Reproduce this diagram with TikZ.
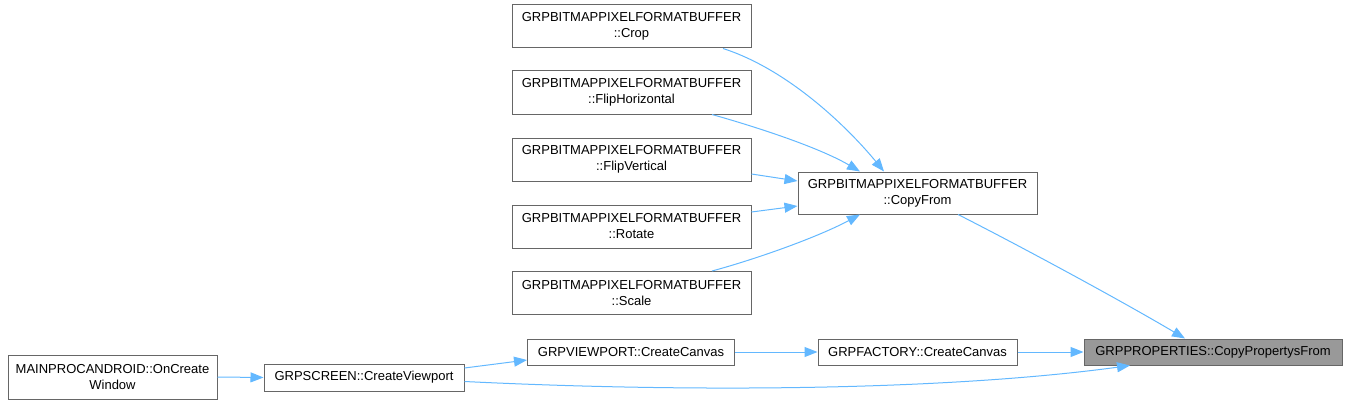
\documentclass[tikz,border=0pt]{standalone}
\usepackage{fontspec}
\setmainfont{Liberation Sans}
\usetikzlibrary{arrows.meta}
\definecolor{edgeblue}{HTML}{63B8FF}
\definecolor{boxborder}{HTML}{666666}
\definecolor{mainfill}{HTML}{999999}
\tikzset{
  fn/.style={draw=boxborder, fill=white, line width=1pt, inner sep=0pt, align=center,
    font=\fontsize{13}{16}\selectfont, text=black},
  mainfn/.style={fn, fill=mainfill},
  edge/.style={draw=edgeblue, line width=1pt, -{Triangle[length=13pt,width=10pt]}}
}
\begin{document}
\begin{tikzpicture}[x=1pt,y=-1pt]
\useasboundingbox (0,0) rectangle (1346,404);
% nodes
\node[mainfn, minimum width=258, minimum height=26] (props) at (1213,352) {GRPPROPERTIES::CopyPropertysFrom};
\node[fn, minimum width=239, minimum height=42] (copyfrom) at (917.5,193) {GRPBITMAPPIXELFORMATBUFFER\\::CopyFrom};
\node[fn, minimum width=239, minimum height=43] (crop) at (631.5,26.5) {GRPBITMAPPIXELFORMATBUFFER\\::Crop};
\node[fn, minimum width=239, minimum height=43] (fliph) at (631.5,92.5) {GRPBITMAPPIXELFORMATBUFFER\\::FlipHorizontal};
\node[fn, minimum width=239, minimum height=43] (flipv) at (631.5,159.5) {GRPBITMAPPIXELFORMATBUFFER\\::FlipVertical};
\node[fn, minimum width=239, minimum height=43] (rotate) at (631.5,226.5) {GRPBITMAPPIXELFORMATBUFFER\\::Rotate};
\node[fn, minimum width=239, minimum height=43] (scale) at (631.5,293) {GRPBITMAPPIXELFORMATBUFFER\\::Scale};
\node[fn, minimum width=199, minimum height=26] (factory) at (917.5,352) {GRPFACTORY::CreateCanvas};
\node[fn, minimum width=207, minimum height=26] (viewport) at (631,352) {GRPVIEWPORT::CreateCanvas};
\node[fn, minimum width=200, minimum height=27] (screen) at (364,377.5) {GRPSCREEN::CreateViewport};
\node[fn, minimum width=209, minimum height=44] (oncreate) at (112.5,377) {MAINPROCANDROID::OnCreate\\Window};
% edges
\draw[edge] ([xshift=91.5pt]crop.south) .. controls (790,70) and (850,130) .. ([xshift=-33.5pt]copyfrom.north);
\draw[edge] ([xshift=80.5pt]fliph.south) .. controls (760,128) and (820,148) .. ([xshift=-57.5pt]copyfrom.north);
\draw[edge] ([yshift=-14.5pt]flipv.east) -- ([yshift=12pt]copyfrom.west);
\draw[edge] ([yshift=14.5pt]rotate.east) -- ([yshift=-13pt]copyfrom.west);
\draw[edge] ([xshift=80.5pt]scale.north) .. controls (760,258) and (820,236) .. ([xshift=-57.5pt]copyfrom.south);
\draw[edge] ([xshift=40.5pt]copyfrom.south) .. controls (1020,246) and (1120,300) .. ([xshift=-28pt]props.north);
\draw[edge] (factory.east) -- (props.west);
\draw[edge] (viewport.east) -- (factory.west);
\draw[edge] ([yshift=9.5pt]screen.east) -- ([yshift=-8pt]viewport.west);
\draw[edge] ([yshift=-4pt]screen.east) .. controls (700,393) and (950,390) .. ([xshift=-83pt]props.south);
\draw[edge] (oncreate.east) -- (screen.west);
\end{tikzpicture}
\end{document}
